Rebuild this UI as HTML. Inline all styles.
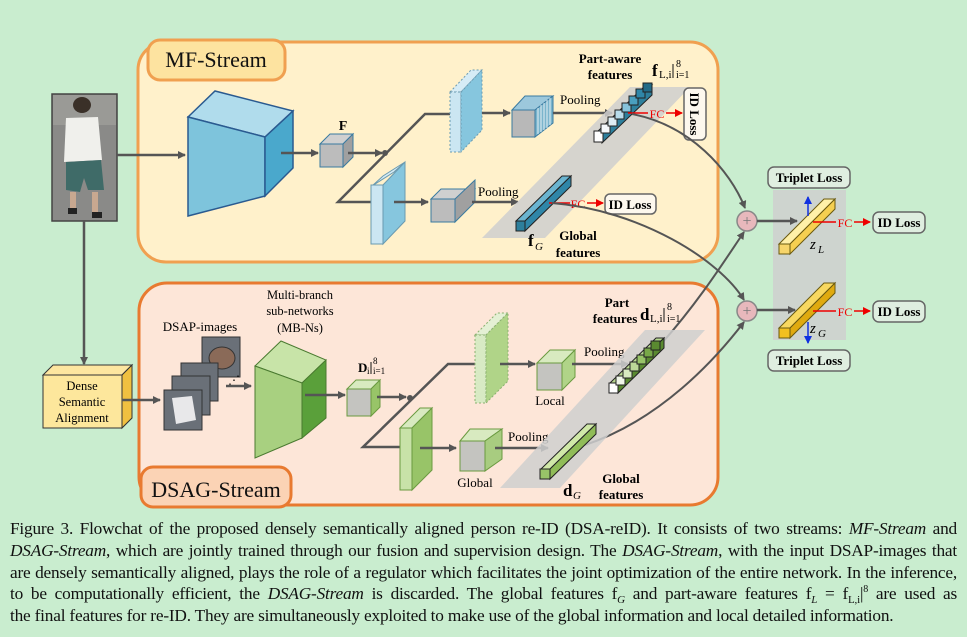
<!DOCTYPE html>
<html><head><meta charset="utf-8"><style>
html,body{margin:0;padding:0;background:#c9edcf;}
body{width:967px;height:637px;position:relative;overflow:hidden;font-family:"Liberation Serif",serif;}
#cap{position:absolute;left:10px;top:518px;width:947px;font-size:17.3px;line-height:21.8px;color:#111;letter-spacing:-0.2px;}
#cap div{text-align:justify;text-align-last:justify;white-space:nowrap;height:21.8px;}
#cap div.last{text-align-last:left;}
.sb{font-size:11px;position:relative;top:4px;line-height:0;}
.sp{font-size:10px;position:relative;top:-7px;line-height:0;}
</style></head><body>
<svg width="967" height="637" style="position:absolute;left:0;top:0" font-family="Liberation Serif, serif">
<defs>
<marker id="a" markerWidth="8" markerHeight="8" refX="7" refY="4" orient="auto" markerUnits="userSpaceOnUse"><path d="M0,0L8,4L0,8z" fill="#555"/></marker>
<marker id="r" markerWidth="8" markerHeight="8" refX="7" refY="4" orient="auto" markerUnits="userSpaceOnUse"><path d="M0,0L8,4L0,8z" fill="#e00"/></marker>
<marker id="b" markerWidth="8" markerHeight="8" refX="7" refY="4" orient="auto" markerUnits="userSpaceOnUse"><path d="M0,0L8,4L0,8z" fill="#1030e0"/></marker>
</defs>
<rect x="138" y="42" width="580" height="220" rx="28" fill="#fff1cb" stroke="#f0a050" stroke-width="3"/>
<rect x="148" y="40" width="137" height="40" rx="12" fill="#fde3a0" stroke="#f0a050" stroke-width="3"/>
<text x="216" y="67" font-size="22" text-anchor="middle" fill="#111">MF-Stream</text>
<rect x="139" y="283" width="579" height="222" rx="28" fill="#fde6d8" stroke="#e87a30" stroke-width="3"/>
<rect x="141" y="467" width="150" height="40" rx="12" fill="#fbd3b5" stroke="#e87a30" stroke-width="3"/>
<text x="216" y="497" font-size="22" text-anchor="middle" fill="#111">DSAG-Stream</text>

<rect x="52" y="94" width="65" height="127" fill="#8a8a88" stroke="#444" stroke-width="1.5"/>
<rect x="53" y="95" width="63" height="30" fill="#9a9a96"/>
<ellipse cx="82" cy="105" rx="9" ry="8" fill="#3a3028"/>
<path d="M66,118 L98,117 L102,160 L64,162Z" fill="#f0f0ec"/>
<path d="M66,162 L101,160 L104,190 L88,190 L84,178 L80,192 L66,190Z" fill="#3f6b68"/>
<rect x="70" y="192" width="6" height="18" fill="#c8a890"/><rect x="92" y="192" width="6" height="20" fill="#c8a890"/>
<rect x="68" y="208" width="9" height="6" fill="#222"/><rect x="92" y="212" width="10" height="6" fill="#222"/>
<line x1="117" y1="155" x2="185" y2="155" stroke="#555" stroke-width="2.5" marker-end="url(#a)"/>

<g stroke="#2a5a90" stroke-width="1.5">
<path d="M188,117 L215,91 L293,111 L265,137Z" fill="#b0dcec"/>
<path d="M188,117 L265,137 L265,196 L188,216Z" fill="#7ec4dc"/>
<path d="M265,137 L293,111 L293,168 L265,196Z" fill="#4aa8cc"/>
</g>
<line x1="281" y1="153" x2="318" y2="153" stroke="#555" stroke-width="2.5" marker-end="url(#a)"/>
<g stroke="#3a7aa0" stroke-width="1">
<path d="M320,144 L330,134 L353,134 L343,144Z" fill="#d0d0d0"/>
<rect x="320" y="144" width="23" height="23" fill="#bcbcbc"/>
<path d="M343,144 L353,134 L353,157 L343,167Z" fill="#a0a0a0"/>
</g>
<text x="343" y="130" font-size="14" font-weight="bold" text-anchor="middle">F</text>
<line x1="348" y1="153" x2="382" y2="153" stroke="#555" stroke-width="2.5" marker-end="url(#a)"/>
<circle cx="385" cy="153" r="3" fill="#555"/>
<polyline points="450,114 425,114 338,202 372,202" fill="none" stroke="#555" stroke-width="2.5"/>
<g stroke="#6a9ab0" stroke-width="1" stroke-dasharray="2,2">
<path d="M450,92 L471,70 L482,70 L461,92Z" fill="#d6ecf6"/>
<rect x="450" y="92" width="11" height="60" fill="#cbe6f2"/>
<path d="M461,92 L482,70 L482,130 L461,152Z" fill="#86c6de"/>
</g>
<g stroke="#6a9ab0" stroke-width="1">
<path d="M372,186 L383,176 L405,162 L394,172Z" fill="#d6ecf6"/>
<rect x="371" y="185" width="12" height="59" fill="#cbe6f2"/>
<path d="M383,185 L405,162 L405,221 L383,244Z" fill="#86c6de"/>
</g>
<line x1="394" y1="202" x2="428" y2="202" stroke="#555" stroke-width="2.5" marker-end="url(#a)"/>
<g stroke="#3a7aa0" stroke-width="1">
<path d="M431,199 L441,189 L475,189 L465,199Z" fill="#d0d0d0"/>
<rect x="431" y="199" width="24" height="23" fill="#bcbcbc"/>
<path d="M455,199 L475,180 L475,202 L455,222Z" fill="#a0a0a0"/>
</g>
<text x="478" y="196" font-size="13">Pooling</text>
<line x1="472" y1="202" x2="518" y2="202" stroke="#555" stroke-width="2.5" marker-end="url(#a)"/>
<line x1="482" y1="113" x2="510" y2="113" stroke="#555" stroke-width="2.5" marker-end="url(#a)"/>
<g stroke="#3a7aa0" stroke-width="1">
<path d="M512,110 L525,96 L553,96 L535,110Z" fill="#9cc8dc"/>
<rect x="512" y="110" width="23" height="27" fill="#b8b8b8"/>
<path d="M535,110 L553,96 L553,123 L535,137Z" fill="#7ab4cc"/>
<path d="M538,108 L538,134 M541,105 L541,132 M544,103 L544,130 M547,100 L547,128 M550,98 L550,125" stroke="#fff" stroke-width="0.8"/>
</g>
<text x="560" y="104" font-size="13">Pooling</text>
<line x1="553" y1="113" x2="612" y2="113" stroke="#555" stroke-width="2.5" marker-end="url(#a)"/>
<polygon points="482,238 545,238 690,87 630,87" fill="#cfcfcf" opacity="0.85"/>
<g stroke="#222" stroke-width="1">
<path d="M596,133 L646,85 L652,85 L602,133Z" fill="#8dc6da"/>
<path d="M602,133 L652,85 L652,95 L602,143Z" fill="#2d7f9c"/>
<rect x="594" y="131" width="9" height="11" fill="#fff"/>
<rect x="601" y="124" width="9" height="9" fill="#f4f8fa"/>
<rect x="608" y="117" width="9" height="9" fill="#dcedf4"/>
<rect x="615" y="110" width="9" height="9" fill="#b8dceb"/>
<rect x="622" y="103" width="9" height="9" fill="#86c3db"/>
<rect x="629" y="96" width="9" height="9" fill="#4a9fbf"/>
<rect x="636" y="89" width="9" height="9" fill="#2f86a8"/>
<rect x="643" y="83" width="9" height="9" fill="#236a86"/>
</g>
<text x="610" y="63" font-size="13" font-weight="bold" text-anchor="middle">Part-aware</text>
<text x="610" y="79" font-size="13" font-weight="bold" text-anchor="middle">features</text>
<text x="652" y="76" font-size="17" font-weight="bold">f</text><text x="659" y="78" font-size="11">L,i</text>
<line x1="673" y1="64" x2="673" y2="78" stroke="#111"/><text x="676" y="67" font-size="10">8</text><text x="676" y="78" font-size="10">i=1</text>
<line x1="628" y1="113" x2="648" y2="113" stroke="#e00" stroke-width="1.5"/>
<text x="657" y="118" font-size="12" fill="#e00" text-anchor="middle">FC</text>
<line x1="666" y1="113" x2="682" y2="113" stroke="#e00" stroke-width="1.5" marker-end="url(#r)"/>
<rect x="684" y="88" width="22" height="52" rx="5" fill="#fdf8ee" stroke="#666" stroke-width="1.5"/>
<text transform="translate(690,114) rotate(90)" font-size="13" font-weight="bold" text-anchor="middle">ID Loss</text>
<g stroke="#222" stroke-width="1">
<path d="M516,221 L562,176 L571,176 L525,221Z" fill="#6ab4d0"/>
<path d="M525,221 L571,176 L571,186 L525,231Z" fill="#2f86a8"/>
<rect x="516" y="221" width="9" height="10" fill="#2d7f9c"/>
</g>
<line x1="549" y1="203" x2="570" y2="203" stroke="#e00" stroke-width="1.5"/>
<text x="578" y="208" font-size="12" fill="#e00" text-anchor="middle">FC</text>
<line x1="587" y1="203" x2="603" y2="203" stroke="#e00" stroke-width="1.5" marker-end="url(#r)"/>
<rect x="605" y="194" width="51" height="20" rx="5" fill="#fdf8ee" stroke="#666" stroke-width="1.5"/>
<text x="630" y="209" font-size="13" font-weight="bold" text-anchor="middle">ID Loss</text>
<text x="528" y="246" font-size="17" font-weight="bold">f</text><text x="535" y="250" font-size="11" font-style="italic">G</text>
<text x="578" y="240" font-size="13" font-weight="bold" text-anchor="middle">Global</text>
<text x="578" y="257" font-size="13" font-weight="bold" text-anchor="middle">features</text>

<path d="M632,114 C690,125 730,170 745,208" fill="none" stroke="#555" stroke-width="2" marker-end="url(#a)"/>
<path d="M552,203 C640,210 720,260 744,300" fill="none" stroke="#555" stroke-width="2" marker-end="url(#a)"/>
<path d="M662,343 C700,300 725,260 744,232" fill="none" stroke="#555" stroke-width="2" marker-end="url(#a)"/>
<path d="M585,445 C660,420 715,360 744,322" fill="none" stroke="#555" stroke-width="2" marker-end="url(#a)"/>
<rect x="773" y="190" width="73" height="150" fill="#cfcfcf" opacity="0.85"/>
<circle cx="747" cy="221" r="10" fill="#e8b8bc" stroke="#888" stroke-width="1.5"/>
<text x="747" y="226" font-size="16" text-anchor="middle" fill="#777">+</text>
<circle cx="747" cy="311" r="10" fill="#e8b8bc" stroke="#888" stroke-width="1.5"/>
<text x="747" y="316" font-size="16" text-anchor="middle" fill="#777">+</text>
<line x1="757" y1="221" x2="797" y2="221" stroke="#555" stroke-width="2.5" marker-end="url(#a)"/>
<line x1="757" y1="310" x2="795" y2="310" stroke="#555" stroke-width="2.5" marker-end="url(#a)"/>
<g stroke="#6a5a10" stroke-width="1">
<path d="M779,244 L824,199 L835,199 L790,244Z" fill="#fff0a8"/>
<path d="M790,244 L835,199 L835,209 L790,254Z" fill="#f5cf50"/>
<rect x="779" y="244" width="11" height="10" fill="#f7d56a"/>
<path d="M779,328 L824,283 L835,283 L790,328Z" fill="#f8d860"/>
<path d="M790,328 L835,283 L835,293 L790,338Z" fill="#e0aa10"/>
<rect x="779" y="328" width="11" height="10" fill="#f2c020"/>
</g>
<line x1="808" y1="216" x2="808" y2="197" stroke="#1030e0" stroke-width="1.5" marker-end="url(#b)"/>
<line x1="808" y1="322" x2="808" y2="343" stroke="#1030e0" stroke-width="1.5" marker-end="url(#b)"/>
<text x="810" y="249" font-size="15" font-style="italic">z</text><text x="818" y="253" font-size="11" font-style="italic">L</text>
<text x="810" y="333" font-size="15" font-style="italic">z</text><text x="818" y="337" font-size="11" font-style="italic">G</text>
<line x1="813" y1="222" x2="836" y2="222" stroke="#e00" stroke-width="1.5"/>
<text x="845" y="227" font-size="12" fill="#e00" text-anchor="middle">FC</text>
<line x1="854" y1="222" x2="870" y2="222" stroke="#e00" stroke-width="1.5" marker-end="url(#r)"/>
<line x1="813" y1="311" x2="836" y2="311" stroke="#e00" stroke-width="1.5"/>
<text x="845" y="316" font-size="12" fill="#e00" text-anchor="middle">FC</text>
<line x1="854" y1="311" x2="870" y2="311" stroke="#e00" stroke-width="1.5" marker-end="url(#r)"/>
<g fill="#dfeee0" stroke="#666" stroke-width="1.5">
<rect x="768" y="167" width="82" height="21" rx="6"/>
<rect x="768" y="350" width="82" height="21" rx="6"/>
<rect x="873" y="212" width="52" height="21" rx="6"/>
<rect x="873" y="301" width="52" height="21" rx="6"/>
</g>
<g font-size="13" font-weight="bold" text-anchor="middle">
<text x="809" y="182">Triplet Loss</text><text x="809" y="365">Triplet Loss</text>
<text x="899" y="227">ID Loss</text><text x="899" y="316">ID Loss</text>
</g>

<line x1="84" y1="221" x2="84" y2="364" stroke="#555" stroke-width="2.5" marker-end="url(#a)"/>
<g stroke="#333" stroke-width="1">
<path d="M43,375 L53,365 L132,365 L122,375Z" fill="#fde6a0"/>
<rect x="43" y="375" width="79" height="53" fill="#fde79c"/>
<path d="M122,375 L132,365 L132,418 L122,428Z" fill="#f0c040"/>
</g>
<g font-size="12.5" text-anchor="middle"><text x="82" y="390">Dense</text><text x="82" y="406">Semantic</text><text x="82" y="422">Alignment</text></g>
<line x1="122" y1="400" x2="160" y2="400" stroke="#555" stroke-width="2.5" marker-end="url(#a)"/>
<text x="200" y="331" font-size="13" text-anchor="middle">DSAP-images</text>
<g stroke="#333" stroke-width="1">
<rect x="202" y="337" width="38" height="40" fill="#6a7078"/>
<ellipse cx="222" cy="358" rx="13" ry="11" fill="#8a6a58"/>
<rect x="181" y="363" width="37" height="38" fill="#6a7078"/>
<rect x="172" y="376" width="38" height="39" fill="#6a7078"/>
<rect x="164" y="390" width="38" height="40" fill="#6a7078"/>
<path d="M172,398 L192,396 L196,420 L176,424Z" fill="#e8e8ea" stroke="none"/>
</g>
<text x="228" y="384" font-size="12">⋰</text>
<line x1="226" y1="386" x2="251" y2="386" stroke="#555" stroke-width="2.5" marker-end="url(#a)"/>
<text x="300" y="299" font-size="12.5" text-anchor="middle">Multi-branch</text>
<text x="300" y="315" font-size="12.5" text-anchor="middle">sub-networks</text>
<text x="300" y="332" font-size="12.5" text-anchor="middle">(MB-Ns)</text>
<g stroke="#4a7a30" stroke-width="1">
<path d="M255,366 L281,341 L326,360 L302,383Z" fill="#c8e4a8"/>
<path d="M255,366 L302,383 L302,438 L255,458Z" fill="#a8d080"/>
<path d="M302,383 L326,360 L326,418 L302,438Z" fill="#5aa03a"/>
</g>
<line x1="305" y1="395" x2="345" y2="395" stroke="#555" stroke-width="2.5" marker-end="url(#a)"/>
<g stroke="#6a9a40" stroke-width="1">
<path d="M347,389 L356,380 L380,380 L371,389Z" fill="#d8eac0"/>
<rect x="347" y="389" width="24" height="27" fill="#c4c4c0"/>
<path d="M371,389 L380,380 L380,407 L371,416Z" fill="#98c468"/>
</g>
<text x="358" y="372" font-size="13" font-weight="bold">D</text><text x="367" y="374" font-size="9">i</text>
<line x1="371" y1="362" x2="371" y2="374" stroke="#111"/><text x="373" y="364" font-size="9">8</text><text x="373" y="374" font-size="9">i=1</text>
<line x1="377" y1="397" x2="406" y2="397" stroke="#555" stroke-width="2.5" marker-end="url(#a)"/>
<circle cx="410" cy="398" r="3" fill="#555"/>
<polyline points="476,364 448,364 363,447 400,447" fill="none" stroke="#555" stroke-width="2.5"/>
<g stroke="#8ab070" stroke-width="1" stroke-dasharray="2,2">
<path d="M475,335 L497,313 L508,313 L486,335Z" fill="#e4f0d4"/>
<rect x="475" y="335" width="11" height="68" fill="#d8eac4"/>
<path d="M486,335 L508,313 L508,381 L486,403Z" fill="#b0d488"/>
</g>
<g stroke="#6a9a40" stroke-width="1">
<path d="M400,428 L420,408 L432,408 L412,428Z" fill="#d8eac0"/>
<rect x="400" y="428" width="12" height="62" fill="#c8e2a8"/>
<path d="M412,428 L432,408 L432,470 L412,490Z" fill="#98c468"/>
</g>
<line x1="500" y1="364" x2="535" y2="364" stroke="#555" stroke-width="2.5" marker-end="url(#a)"/>
<g stroke="#6a9a40" stroke-width="1">
<path d="M537,363 L550,350 L575,350 L562,363Z" fill="#d8eac0"/>
<rect x="537" y="363" width="25" height="27" fill="#c4c4c0"/>
<path d="M562,363 L575,350 L575,377 L562,390Z" fill="#b0d488"/>
</g>
<text x="550" y="405" font-size="13" text-anchor="middle">Local</text>
<text x="584" y="356" font-size="13">Pooling</text>
<line x1="572" y1="364" x2="628" y2="364" stroke="#555" stroke-width="2.5" marker-end="url(#a)"/>
<line x1="420" y1="448" x2="456" y2="448" stroke="#555" stroke-width="2.5" marker-end="url(#a)"/>
<g stroke="#6a9a40" stroke-width="1">
<path d="M460,441 L470,429 L502,429 L485,441Z" fill="#d8eac0"/>
<rect x="460" y="441" width="25" height="30" fill="#c4c4c0"/>
<path d="M485,441 L502,429 L502,459 L485,471Z" fill="#a8cc80"/>
</g>
<text x="475" y="487" font-size="13" text-anchor="middle">Global</text>
<text x="508" y="441" font-size="13">Pooling</text>
<line x1="495" y1="448" x2="548" y2="448" stroke="#555" stroke-width="2.5" marker-end="url(#a)"/>
<polygon points="500,488 560,488 705,330 645,330" fill="#cfcfcf" opacity="0.85"/>
<g stroke="#222" stroke-width="1">
<path d="M610,383 L656,338 L664,338 L618,383Z" fill="#b8d890"/>
<path d="M618,383 L664,338 L664,348 L618,393Z" fill="#5a8a30"/>
<rect x="609" y="383" width="9" height="10" fill="#fff"/>
<rect x="616" y="376" width="9" height="9" fill="#f0f6e8"/>
<rect x="623" y="369" width="9" height="9" fill="#d8eac0"/>
<rect x="630" y="362" width="9" height="9" fill="#bcd898"/>
<rect x="637" y="355" width="9" height="9" fill="#98c468"/>
<rect x="644" y="348" width="9" height="9" fill="#78a848"/>
<rect x="651" y="341" width="9" height="9" fill="#5a8a30"/>
</g>
<path d="M541,469 L587,424 L596,424 L550,469Z" fill="#d0e8a8" stroke="#222"/>
<path d="M550,469 L596,424 L596,434 L550,479Z" fill="#90bc58" stroke="#222"/>
<rect x="540" y="469" width="10" height="10" fill="#98c468" stroke="#222"/>
<text x="617" y="307" font-size="13" font-weight="bold" text-anchor="middle">Part</text>
<text x="615" y="323" font-size="13" font-weight="bold" text-anchor="middle">features</text>
<text x="640" y="320" font-size="17" font-weight="bold">d</text><text x="650" y="322" font-size="11">L,i</text>
<line x1="664" y1="308" x2="664" y2="322" stroke="#111"/><text x="667" y="310" font-size="10">8</text><text x="667" y="322" font-size="10">i=1</text>
<text x="563" y="496" font-size="17" font-weight="bold">d</text><text x="573" y="499" font-size="11" font-style="italic">G</text>
<text x="621" y="483" font-size="13" font-weight="bold" text-anchor="middle">Global</text>
<text x="621" y="499" font-size="13" font-weight="bold" text-anchor="middle">features</text>
</svg>
<div id="cap">
<div>Figure 3. Flowchat of the proposed densely semantically aligned person re-ID (DSA-reID). It consists of two streams: <i>MF-Stream</i> and</div>
<div><i>DSAG-Stream</i>, which are jointly trained through our fusion and supervision design. The <i>DSAG-Stream</i>, with the input DSAP-images that</div>
<div>are densely semantically aligned, plays the role of a regulator which facilitates the joint optimization of the entire network. In the inference,</div>
<div>to be computationally efficient, the <i>DSAG-Stream</i> is discarded. The global features f<span class="sb"><i>G</i></span> and part-aware features f<span class="sb"><i>L</i></span> = f<span class="sb">L,i</span>|<span class="sp">8</span> are used as</div>
<div class="last">the final features for re-ID. They are simultaneously exploited to make use of the global information and local detailed information.</div>
</div>
</body></html>
